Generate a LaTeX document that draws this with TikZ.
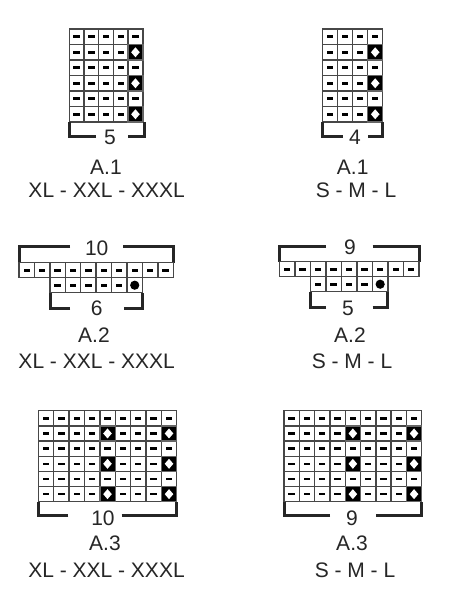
\documentclass[tikz,border=0pt]{standalone}
\usepackage{fontspec}
\setmainfont{Liberation Sans}

\begin{document}
\begin{tikzpicture}[x=1pt,y=-1pt,
	cell/.style={draw=black!72,line width=1.4pt,fill=white},
	slipcell/.style={draw=black!60,line width=1.4pt,fill=black},
	bracket/.style={draw=black!85,line width=3pt},
	lbl/.style={anchor=base,inner sep=0pt,font=\fontsize{21}{25}\selectfont,text=black!85}]

	\useasboundingbox[fill=white] (0,0) rectangle (449,600);

	% A.1 XL - XXL - XXXL
	\foreach \c in {1,...,5}
		\foreach \r in {1,...,6} {
			\draw [cell] ({69.3+(\c-1)*14.7},{29+(\r-1)*15.5}) rectangle +(14.7,15.5);
			\fill ({69.3+(\c-0.5)*14.7-3.2},{29+(\r-0.5)*15.5-1.3}) rectangle +(6.4,2.6);
		}
	\foreach \r in {2,4,6} {
		\draw [slipcell] ({69.3+4*14.7},{29+(\r-1)*15.5}) rectangle +(14.7,15.5);
		\fill [white] ({69.3+4.5*14.7},{29+(\r-0.5)*15.5-5}) -- ++(4.3,5) -- ++(-4.3,5) -- ++(-4.3,-5) -- cycle;
	}
	\draw [bracket] (96,136.7) -- (69.3,136.7) -- (69.3,122);
	\draw [bracket] (128.3,136.7) -- (144,136.7) -- (144,122);
	\node [lbl] (a1Lcount) at (110,144.5) {5};
	\node [lbl] (a1Lname) at (106,174) {A.1};
	\node [lbl] (a1Lsize) at (106.7,197) {XL - XXL - XXXL};

	% A.1 S - M - L
	\foreach \c in {1,...,4}
		\foreach \r in {1,...,6} {
			\draw [cell] ({322.7+(\c-1)*15},{29+(\r-1)*15.5}) rectangle +(15,15.5);
			\fill ({322.7+(\c-0.5)*15-3.2},{29+(\r-0.5)*15.5-1.3}) rectangle +(6.4,2.6);
		}
	\foreach \r in {2,4,6} {
		\draw [slipcell] ({322.7+3*15},{29+(\r-1)*15.5}) rectangle +(15,15.5);
		\fill [white] ({322.7+3.5*15},{29+(\r-0.5)*15.5-5}) -- ++(4.3,5) -- ++(-4.3,5) -- ++(-4.3,-5) -- cycle;
	}
	\draw [bracket] (342.7,136.7) -- (322.7,136.7) -- (322.7,122);
	\draw [bracket] (368.3,136.7) -- (382.7,136.7) -- (382.7,122);
	\node [lbl] (a1Rcount) at (355,144.5) {4};
	\node [lbl] (a1Rname) at (352.7,174) {A.1};
	\node [lbl] (a1Rsize) at (356,197) {S - M - L};

	% A.2 XL - XXL - XXXL
	\draw [bracket] (70,246.7) -- (19,246.7) -- (19,262.7);
	\draw [bracket] (123.3,246.7) -- (173.3,246.7) -- (173.3,262.7);
	\node [lbl] (a2Ltop) at (96.7,255) {10};
	\foreach \c in {1,...,10} {
		\draw [cell] ({19+(\c-1)*15.43},262.7) rectangle +(15.43,15);
		\fill ({19+(\c-0.5)*15.43-3.2},{270.2-1.3}) rectangle +(6.4,2.6);
	}
	\foreach \c in {3,...,8}
		\draw [cell] ({19+(\c-1)*15.43},277.7) rectangle +(15.43,15);
	\foreach \c in {3,...,7}
		\fill ({19+(\c-0.5)*15.43-3.2},{285.2-1.3}) rectangle +(6.4,2.6);
	\fill ({19+7.5*15.43},285.2) circle (4.6);
	\draw [bracket] (70,308) -- (50,308) -- (50,292.7);
	\draw [bracket] (124,308) -- (142.7,308) -- (142.7,292.7);
	\node [lbl] (a2Lbottom) at (96.7,315.5) {6};
	\node [lbl] (a2Lname) at (94,342) {A.2};
	\node [lbl] (a2Lsize) at (96.7,368) {XL - XXL - XXXL};

	% A.2 S - M - L
	\draw [bracket] (326,246.7) -- (279.3,246.7) -- (279.3,261.7);
	\draw [bracket] (372.7,246.7) -- (419,246.7) -- (419,261.7);
	\node [lbl] (a2Rtop) at (350,254) {9};
	\foreach \c in {1,...,9} {
		\draw [cell] ({279.3+(\c-1)*15.52},261.7) rectangle +(15.52,15);
		\fill ({279.3+(\c-0.5)*15.52-3.2},{269.2-1.3}) rectangle +(6.4,2.6);
	}
	\foreach \c in {3,...,7}
		\draw [cell] ({279.3+(\c-1)*15.52},276.7) rectangle +(15.52,15);
	\foreach \c in {3,...,6}
		\fill ({279.3+(\c-0.5)*15.52-3.2},{284.2-1.3}) rectangle +(6.4,2.6);
	\fill ({279.3+6.5*15.52},284.2) circle (4.6);
	\draw [bracket] (326,307.3) -- (310.7,307.3) -- (310.7,291.7);
	\draw [bracket] (372.7,307.3) -- (387.7,307.3) -- (387.7,291.7);
	\node [lbl] (a2Rbottom) at (348,315) {5};
	\node [lbl] (a2Rname) at (350,342) {A.2};
	\node [lbl] (a2Rsize) at (352,368) {S - M - L};

	% A.3 XL - XXL - XXXL
	\foreach \c in {1,...,9}
		\foreach \r in {1,...,6} {
			\draw [cell] ({38.3+(\c-1)*15.38},{410.7+(\r-1)*15.17}) rectangle +(15.38,15.17);
			\fill ({38.3+(\c-0.5)*15.38-3.2},{410.7+(\r-0.5)*15.17-1.3}) rectangle +(6.4,2.6);
		}
	\foreach \c in {5,9}
		\foreach \r in {2,4,6} {
			\draw [slipcell] ({38.3+(\c-1)*15.38},{410.7+(\r-1)*15.17}) rectangle +(15.38,15.17);
			\fill [white] ({38.3+(\c-0.5)*15.38},{410.7+(\r-0.5)*15.17-5}) -- ++(4.3,5) -- ++(-4.3,5) -- ++(-4.3,-5) -- cycle;
		}
	\draw [bracket] (68.3,515) -- (38.3,515) -- (38.3,501.7);
	\draw [bracket] (121.7,515) -- (176.7,515) -- (176.7,501.7);
	\node [lbl] (a3Lcount) at (103,525) {10};
	\node [lbl] (a3Lname) at (105,550) {A.3};
	\node [lbl] (a3Lsize) at (106.5,577) {XL - XXL - XXXL};

	% A.3 S - M - L
	\foreach \c in {1,...,9}
		\foreach \r in {1,...,6} {
			\draw [cell] ({284+(\c-1)*15.3},{410.7+(\r-1)*15.17}) rectangle +(15.3,15.17);
			\fill ({284+(\c-0.5)*15.3-3.2},{410.7+(\r-0.5)*15.17-1.3}) rectangle +(6.4,2.6);
		}
	\foreach \c in {5,9}
		\foreach \r in {2,4,6} {
			\draw [slipcell] ({284+(\c-1)*15.3},{410.7+(\r-1)*15.17}) rectangle +(15.3,15.17);
			\fill [white] ({284+(\c-0.5)*15.3},{410.7+(\r-0.5)*15.17-5}) -- ++(4.3,5) -- ++(-4.3,5) -- ++(-4.3,-5) -- cycle;
		}
	\draw [bracket] (330,515) -- (284,515) -- (284,501.7);
	\draw [bracket] (376,515) -- (421.7,515) -- (421.7,501.7);
	\node [lbl] (a3Rcount) at (352,525) {9};
	\node [lbl] (a3Rname) at (352,550) {A.3};
	\node [lbl] (a3Rsize) at (355,577) {S - M - L};

\end{tikzpicture}
\end{document}
